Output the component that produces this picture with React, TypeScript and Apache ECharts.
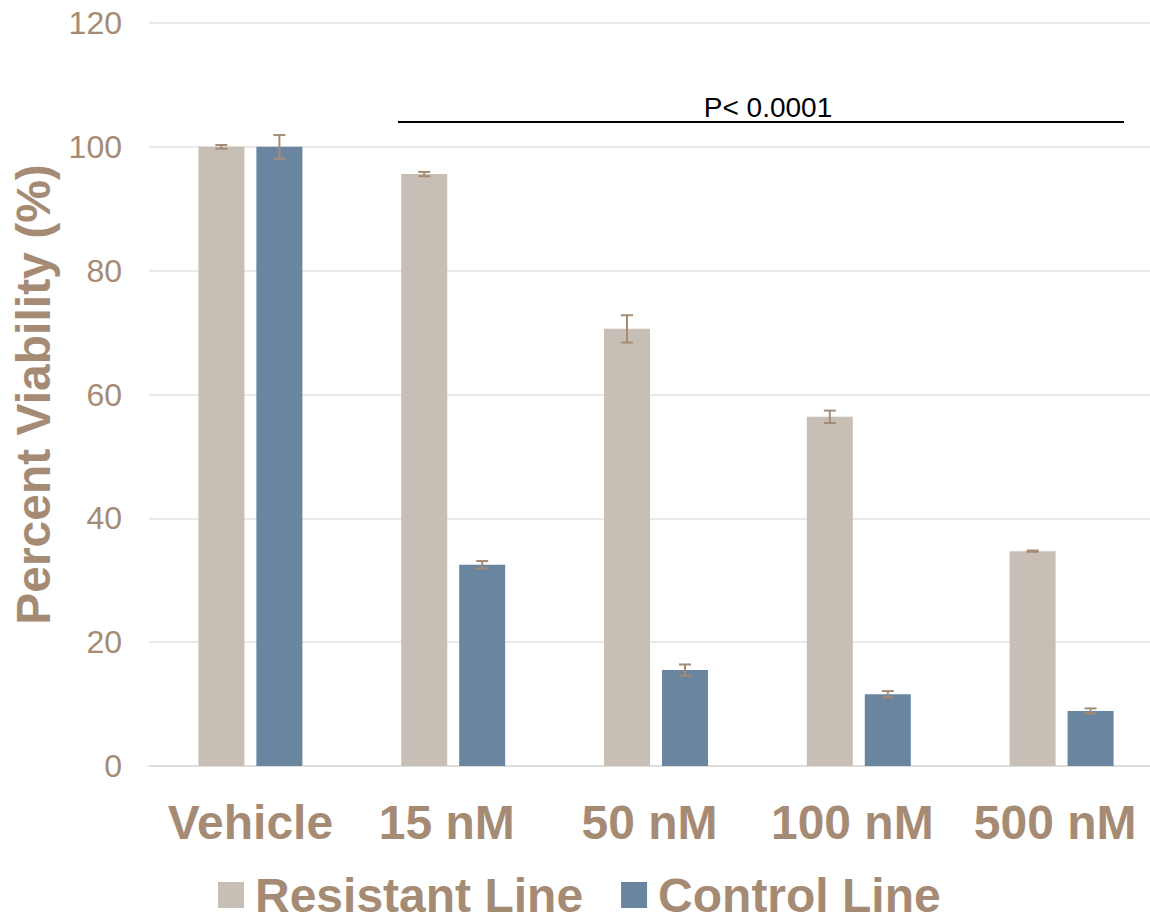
import React, { useEffect, useRef } from "react";
import * as echarts from "echarts";

const categories = ["Vehicle", "15 nM", "50 nM", "100 nM", "500 nM"];
const resistant = [100, 95.6, 70.6, 56.4, 34.7];
const resistantErr = [0.3, 0.35, 2.2, 1.0, 0.1];
const control = [100, 32.5, 15.5, 11.6, 8.9];
const controlErr = [1.9, 0.6, 0.9, 0.5, 0.4];
const seriesNames = ["Resistant Line", "Control Line"];
const pLabel = "P< 0.0001";

const TAN = "#a68b74";
const RES = "#c7bfb5";
const CTL = "#6a859f";

export default function App() {
  const ref = useRef<HTMLDivElement>(null);
  useEffect(() => {
    const chart = echarts.init(ref.current!, undefined, { renderer: "svg" });
    const errData = (vals: number[], errs: number[]) =>
      vals.map((v, i) => [i, v - errs[i], v + errs[i]]);
    const errSeries = (vals: number[], errs: number[], offset: number) => ({
      type: "custom",
      data: errData(vals, errs),
      z: 10,
      silent: true,
      renderItem: (params: any, api: any) => {
        const x = api.coord([api.value(0), 0])[0] + offset;
        const lo = api.coord([api.value(0), api.value(1)])[1];
        const hi = api.coord([api.value(0), api.value(2)])[1];
        const style = { stroke: TAN, lineWidth: 2 };
        return {
          type: "group",
          children: [
            { type: "line", shape: { x1: x, y1: lo, x2: x, y2: hi }, style },
            { type: "line", shape: { x1: x - 6, y1: lo, x2: x + 6, y2: lo }, style },
            { type: "line", shape: { x1: x - 6, y1: hi, x2: x + 6, y2: hi }, style },
          ],
        };
      },
    });
    const labelStyle = { fontSize: 48, fontWeight: "bold", color: TAN };
    chart.setOption({
      animation: false,
      textStyle: { fontFamily: "Liberation Sans, Arial, sans-serif" },
      grid: { left: 149, right: 0, top: 23, bottom: 154, containLabel: false },
      legend: {
        left: 218,
        top: 870,
        padding: 0,
        itemWidth: 26,
        itemHeight: 26,
        itemGap: 38,
        icon: "rect",
        data: seriesNames,
        textStyle: {
          fontSize: 48,
          fontWeight: "bold",
          color: TAN,
          lineHeight: 50,
          padding: [0, 0, 0, 6],
        },
      },
      xAxis: {
        type: "category",
        data: categories,
        axisTick: { show: false },
        axisLine: { lineStyle: { color: "#d9d9d9", width: 1.5 } },
        axisLabel: {
          ...labelStyle,
          margin: 32,
          interval: 0,
          hideOverlap: false,
          formatter: (v: string) => (v === "Vehicle" ? `{v|${v}}` : `{n|${v}}`),
          rich: {
            v: { ...labelStyle },
            n: { ...labelStyle, padding: [0, 13, 0, 0] },
          },
        },
      },
      yAxis: {
        type: "value",
        min: 0,
        max: 120,
        interval: 20,
        name: "Percent Viability (%)",
        nameLocation: "middle",
        nameGap: 90,
        nameTextStyle: { fontSize: 48, fontWeight: "bold", color: TAN },
        axisLine: { show: false },
        axisTick: { show: false },
        axisLabel: { fontSize: 32, color: TAN, margin: 27 },
        splitLine: { lineStyle: { color: "#e5e2df", width: 1.5 } },
      },
      series: [
        {
          name: seriesNames[0],
          type: "bar",
          data: resistant,
          barWidth: 46,
          barGap: "26%",
          itemStyle: { color: RES },
        },
        {
          name: seriesNames[1],
          type: "bar",
          data: control,
          barWidth: 46,
          barGap: "26%",
          itemStyle: { color: CTL },
        },
        errSeries(resistant, resistantErr, -29),
        errSeries(control, controlErr, 29),
      ],
      graphic: [
        { type: "line", shape: { x1: 398, y1: 122, x2: 1124, y2: 122 }, style: { stroke: "#000", lineWidth: 2 } },
        {
          type: "text",
          x: 768,
          y: 107,
          style: {
            text: pLabel,
            fontSize: 28,
            fill: "#000",
            fontFamily: "Liberation Sans, Arial, sans-serif",
            align: "center",
            verticalAlign: "middle",
          },
        },
      ],
    });
    return () => chart.dispose();
  }, []);
  return (
    <div
      style={{
        position: "fixed",
        left: 0,
        top: 0,
        width: 1150,
        height: 920,
        overflow: "hidden",
        background: "#fff",
      }}
    >
      <div ref={ref} style={{ width: 1163, height: 920 }} />
    </div>
  );
}
